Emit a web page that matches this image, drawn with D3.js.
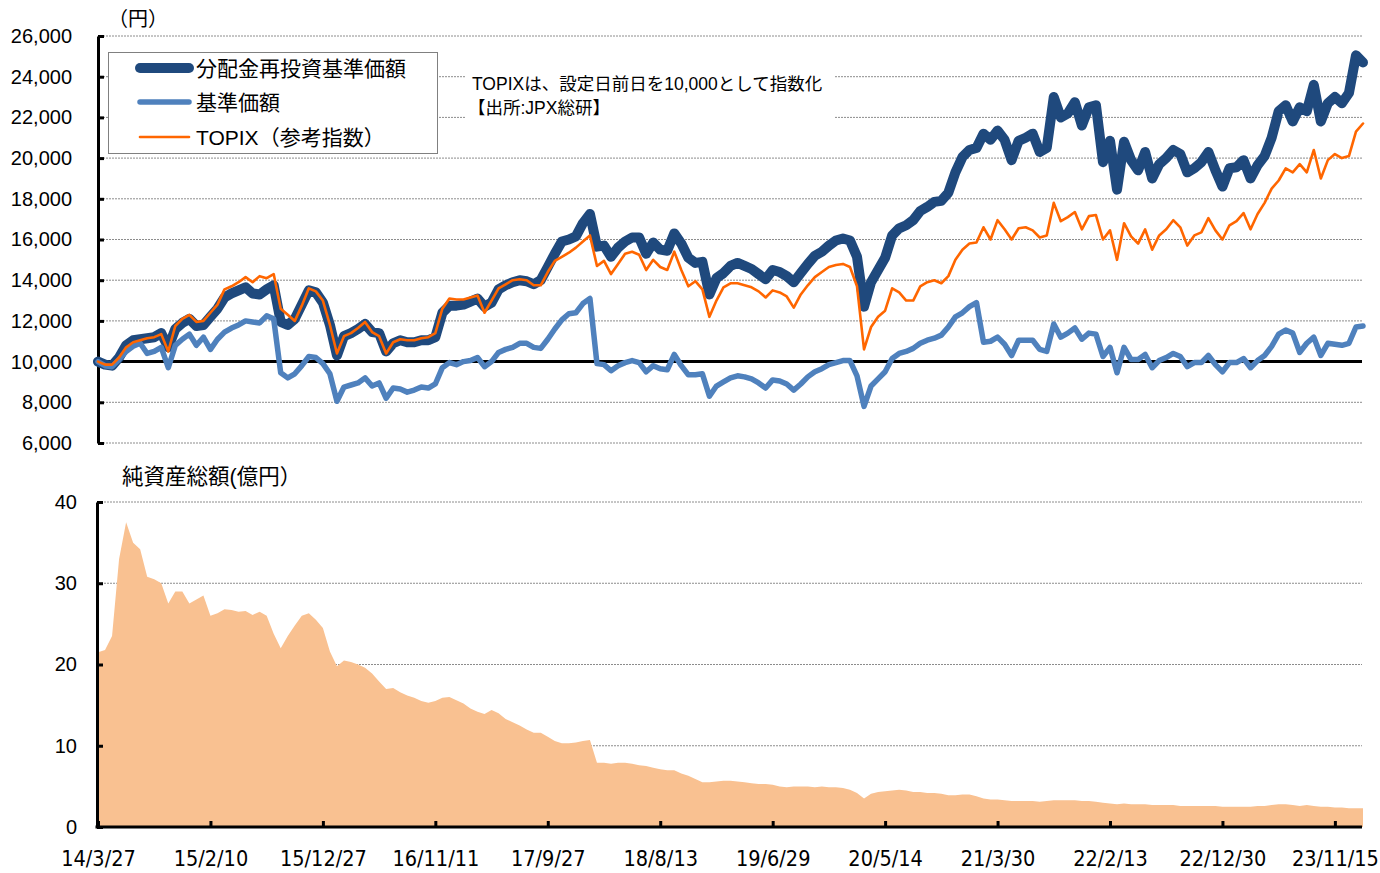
<!DOCTYPE html>
<html>
<head>
<meta charset="utf-8">
<script src="https://cdn.jsdelivr.net/npm/d3@7"></script>
<style>
  body { margin: 0; background: #fff; }
  svg { display: block; font-family: "Liberation Sans", "Noto Sans CJK JP", sans-serif; }
  .grid line { stroke: #8c8c8c; stroke-width: 1; stroke-dasharray: 2,1; }
  .axis path, .axis line { stroke: #000; stroke-width: 3; }
  .xaxis text { font-family: "DejaVu Sans Condensed", "Liberation Sans Narrow", sans-serif; font-stretch: condensed; }
</style>
</head>
<body>
<div id="chart"></div>
<script>
// data, one value every 20 days from the start date
const startDate = "2014-03-27";
const stepDays = 20;

const reinvestNav = [
  10000, 9850, 9800, 10200, 10800, 11050, 11100, 11150, 11200, 11400,
  10700, 11600, 11900, 12100, 11750, 11800, 12200, 12600, 13150, 13350,
  13500, 13650, 13350, 13300, 13550, 13750, 11950, 11800, 12100, 12800,
  13500, 13400, 12900, 11800, 10300, 11250, 11400, 11600, 11850, 11450,
  11400, 10500, 10900, 11050, 10950, 10950, 11050, 11050, 11200, 12400,
  12750, 12750, 12800, 12950, 13100, 12700, 12900, 13550, 13750, 13900,
  14000, 13950, 13800, 14000, 14650, 15300, 15900, 16000, 16150, 16800,
  17250, 15650, 15700, 15150, 15600, 15900, 16100, 16100, 15300, 15850,
  15500, 15450, 16300, 15800, 15100, 14850, 14900, 13300, 14100, 14350,
  14700, 14850, 14700, 14550, 14300, 14050, 14500, 14400, 14200, 13900,
  14350, 14800, 15200, 15400, 15700, 15950, 16050, 15950, 15150, 12700,
  13900, 14500, 15100, 16200, 16550, 16700, 16950, 17400, 17600, 17850,
  17900, 18300, 19300, 20050, 20400, 20500, 21200, 20900, 21350, 20900,
  19900, 20850, 21000, 21200, 20300, 20500, 23000, 22000, 22200, 22750,
  21600, 22500, 22600, 19800, 20850, 18450, 20800, 19900, 19400, 20300,
  19000, 19700, 20000, 20400, 20200, 19300, 19500, 19800, 20300, 19400,
  18600, 19500, 19550, 19900, 19000, 19650, 20100, 21000, 22300, 22600,
  21800, 22500, 22300, 23600, 21800, 22700, 23000, 22700, 23200, 25050, 24700
];

const nav = [
  10000, 9800, 9750, 10100, 10500, 10750, 10900, 10400, 10500, 10700,
  9700, 10800, 11100, 11350, 10800, 11200, 10600, 11100, 11450, 11650,
  11800, 12000, 11950, 11900, 12250, 12100, 9450, 9200, 9400, 9800,
  10250, 10200, 9900, 9400, 8050, 8750, 8850, 8950, 9200, 8800,
  8950, 8200, 8700, 8650, 8500, 8600, 8750, 8700, 8900, 9700,
  9950, 9850, 10000, 10050, 10200, 9750, 10000, 10450, 10600, 10700,
  10900, 10900, 10700, 10650, 11100, 11600, 12050, 12350, 12400, 12850,
  13100, 9900, 9850, 9550, 9800, 9950, 10050, 9950, 9500, 9800,
  9650, 9600, 10350, 9800, 9350, 9350, 9400, 8300, 8800, 9000,
  9200, 9300, 9250, 9150, 8950, 8700, 9100, 9050, 8900, 8600,
  8900, 9250, 9500, 9650, 9850, 9950, 10050, 10050, 9300, 7800,
  8800, 9150, 9500, 10150, 10400, 10500, 10650, 10900, 11050, 11150,
  11300, 11700, 12200, 12400, 12700, 12900, 10950, 11000, 11200, 10850,
  10300, 11050, 11050, 11050, 10600, 10500, 11850, 11200, 11400, 11650,
  11100, 11400, 11350, 10250, 10700, 9450, 10700, 10100, 10100, 10350,
  9700, 10050, 10200, 10400, 10250, 9750, 9950, 9950, 10300, 9850,
  9500, 9950, 9950, 10150, 9700, 10050, 10300, 10750, 11350, 11550,
  11400, 10450, 10900, 11200, 10300, 10900, 10850, 10800, 10900, 11700, 11750
];

const topix = [
  10000, 9850, 9850, 10200, 10700, 10950, 11050, 11150, 11200, 11350,
  10500, 11750, 12100, 12300, 11950, 12000, 12400, 12800, 13550, 13700,
  13900, 14150, 13900, 14200, 14100, 14300, 12600, 12300, 12000, 12750,
  13600, 13450, 13000, 11800, 10400, 11250, 11400, 11650, 11950, 11450,
  11250, 10400, 10950, 11100, 11050, 11050, 11150, 11200, 11400, 12600,
  13100, 13050, 13050, 13150, 13250, 12400, 13000, 13600, 13800, 14000,
  14050, 14000, 13750, 13750, 14400, 14950, 15150, 15350, 15600, 15900,
  16200, 14700, 14950, 14300, 14800, 15300, 15400, 15250, 14500, 15000,
  14650, 14500, 15400, 14500, 13700, 13950, 13550, 12200, 13000, 13650,
  13850, 13850, 13750, 13650, 13450, 13150, 13500, 13400, 13200, 12650,
  13300, 13750, 14150, 14400, 14650, 14750, 14800, 14650, 13700, 10600,
  11700, 12200, 12500, 13600, 13400, 13000, 13000, 13700, 13900, 14000,
  13850, 14200, 15000, 15500, 15800, 15850, 16600, 16000, 16950, 16500,
  16000, 16550, 16600, 16450, 16100, 16200, 17800, 16900, 17100, 17350,
  16500, 17150, 17200, 16000, 16450, 15000, 16800, 16150, 15800, 16500,
  15500, 16200, 16500, 16950, 16600, 15700, 16200, 16350, 17050, 16450,
  16000, 16700, 16900, 17300, 16500, 17250, 17800, 18500, 18900, 19500,
  19300, 19700, 19300, 20400, 19000, 19900, 20200, 20000, 20100, 21300, 21700
];

const netAssets = [
  21.5, 21.8, 23.5, 33.0, 37.5, 35.0, 34.2, 30.8, 30.5, 30.0,
  27.5, 29.0, 29.0, 27.5, 28.0, 28.5, 26.0, 26.3, 26.8, 26.7,
  26.5, 26.6, 26.1, 26.5, 26.0, 23.8, 22.0, 23.5, 24.8, 26.0,
  26.3, 25.5, 24.5, 21.6, 19.8, 20.5, 20.3, 20.0, 19.6, 18.9,
  17.9, 17.0, 17.1, 16.6, 16.2, 15.9, 15.5, 15.3, 15.5, 15.9,
  16.0, 15.6, 15.2, 14.6, 14.2, 13.9, 14.4, 14.0, 13.3, 12.9,
  12.5, 12.0, 11.6, 11.6, 11.1, 10.6, 10.3, 10.3, 10.4, 10.6,
  10.7, 7.9, 7.9, 7.8, 7.9, 7.9, 7.8, 7.6, 7.5, 7.3,
  7.1, 7.0, 7.0, 6.6, 6.3, 5.9, 5.5, 5.5, 5.6, 5.7,
  5.7, 5.6, 5.5, 5.4, 5.3, 5.3, 5.2, 5.0, 4.9, 5.0,
  5.0, 5.0, 4.9, 5.0, 4.9, 4.9, 4.8, 4.6, 4.2, 3.5,
  4.1, 4.3, 4.4, 4.5, 4.6, 4.5, 4.3, 4.3, 4.2, 4.2,
  4.1, 3.9, 3.9, 4.0, 4.0, 3.8, 3.5, 3.4, 3.4, 3.3,
  3.2, 3.2, 3.2, 3.2, 3.1, 3.2, 3.3, 3.3, 3.3, 3.3,
  3.2, 3.2, 3.1, 3.0, 2.9, 2.8, 2.9, 2.8, 2.8, 2.8,
  2.7, 2.7, 2.7, 2.7, 2.6, 2.6, 2.6, 2.6, 2.6, 2.6,
  2.5, 2.5, 2.5, 2.5, 2.5, 2.6, 2.6, 2.7, 2.8, 2.8,
  2.7, 2.6, 2.7, 2.6, 2.5, 2.5, 2.4, 2.4, 2.3, 2.3, 2.3
];

const tickLabels = ["14/3/27", "15/2/10", "15/12/27", "16/11/11", "17/9/27", "18/8/13",
  "19/6/29", "20/5/14", "21/3/30", "22/2/13", "22/12/30", "23/11/15"];
const priceTicks = [6000, 8000, 10000, 12000, 14000, 16000, 18000, 20000, 22000, 24000, 26000];
const assetTicks = [0, 10, 20, 30, 40];
const seriesNames = ["分配金再投資基準価額", "基準価額", "TOPIX（参考指数）"];
const seriesColors = ["#1f497d", "#4f81bd", "#ff6600"];
const seriesWidths = [10, 5.5, 2.6];

const width = 1380, height = 873;

var svg = d3.select("#chart").append("svg")
    .attr("width", width)
    .attr("height", height);

var parseDay = d3.timeParse("%Y-%m-%d"),
    parseTick = d3.timeParse("%y/%m/%d");
var start = parseDay(startDate);
var dates = reinvestNav.map(function(d, i) { return d3.timeDay.offset(start, i * stepDays); });
var tickDates = tickLabels.map(function(s) { return parseTick(s); });

var x = d3.scaleTime()
    .domain([start, d3.timeDay.offset(start, 3600)])
    .range([98, 1363]);

var yTop = d3.scaleLinear().domain([6000, 26000]).range([443, 36]);
var yBot = d3.scaleLinear().domain([0, 40]).range([827, 502]);

// ---------- top panel ----------
svg.append("g")
    .attr("class", "grid")
  .selectAll("line")
    .data(priceTicks.filter(function(d) { return d !== 10000; }))
  .enter().append("line")
    .attr("x1", 100).attr("x2", 1362)
    .attr("y1", function(d) { return yTop(d); })
    .attr("y2", function(d) { return yTop(d); });

svg.append("line")
    .attr("x1", 98).attr("x2", 1362)
    .attr("y1", yTop(10000)).attr("y2", yTop(10000))
    .attr("stroke", "#000").attr("stroke-width", 3);

// white box behind the note
svg.append("rect")
    .attr("x", 466).attr("y", 70).attr("width", 368).attr("height", 50)
    .attr("fill", "#fff");

svg.append("text")
    .attr("x", 472).attr("y", 90)
    .attr("font-size", 17.5)
    .text("TOPIXは、設定日前日を10,000として指数化");
svg.append("text")
    .attr("x", 468).attr("y", 114)
    .attr("font-size", 17.5)
    .text("【出所:JPX総研】");

var yAxisTop = d3.axisLeft(yTop)
    .tickValues(priceTicks)
    .tickSize(-6)
    .tickSizeOuter(0)
    .tickPadding(26)
    .tickFormat(d3.format(","));

svg.append("g")
    .attr("class", "axis")
    .attr("transform", "translate(98,0)")
    .call(yAxisTop)
    .call(function(g) { g.selectAll("text").attr("font-size", 20).attr("fill", "#000").attr("font-family", "Liberation Sans"); });

var lines = [reinvestNav, nav, topix];
lines.forEach(function(values, k) {
  var line = d3.line()
      .x(function(d, i) { return x(dates[i]); })
      .y(function(d) { return yTop(d); });
  svg.append("path")
      .datum(values)
      .attr("fill", "none")
      .attr("stroke", seriesColors[k])
      .attr("stroke-width", seriesWidths[k])
      .attr("stroke-linejoin", "round")
      .attr("stroke-linecap", "round")
      .attr("d", line);
});

svg.append("text")
    .attr("x", 108).attr("y", 26)
    .attr("font-size", 20)
    .text("（円）");

// legend
var legend = svg.append("g");
legend.append("rect")
    .attr("x", 108.5).attr("y", 52.5).attr("width", 329).attr("height", 101)
    .attr("fill", "#fff").attr("stroke", "#808080").attr("stroke-width", 1);

var legendY = [68, 102, 137];
seriesNames.forEach(function(name, k) {
  legend.append("line")
      .attr("x1", 140).attr("x2", 189)
      .attr("y1", legendY[k]).attr("y2", legendY[k])
      .attr("stroke", seriesColors[k])
      .attr("stroke-width", seriesWidths[k])
      .attr("stroke-linecap", "round");
  legend.append("text")
      .attr("x", 196).attr("y", legendY[k])
      .attr("dy", "0.36em")
      .attr("font-size", 21)
      .text(name);
});

// ---------- bottom panel ----------
svg.append("g")
    .attr("class", "grid")
  .selectAll("line")
    .data(assetTicks.filter(function(d) { return d > 0; }))
  .enter().append("line")
    .attr("x1", 98).attr("x2", 1362)
    .attr("y1", function(d) { return yBot(d); })
    .attr("y2", function(d) { return yBot(d); });

var area = d3.area()
    .x(function(d, i) { return x(dates[i]); })
    .y0(yBot(0))
    .y1(function(d) { return yBot(d); });

svg.append("path")
    .datum(netAssets)
    .attr("fill", "#f9c191")
    .attr("d", area);

svg.append("text")
    .attr("x", 122).attr("y", 484)
    .attr("font-size", 21.5)
    .text("純資産総額(億円）");

var yAxisBot = d3.axisLeft(yBot)
    .tickValues(assetTicks)
    .tickSize(-6)
    .tickSizeOuter(0)
    .tickPadding(20);

svg.append("g")
    .attr("class", "axis")
    .attr("transform", "translate(97,0)")
    .call(yAxisBot)
    .call(function(g) { g.selectAll("text").attr("font-size", 20).attr("fill", "#000").attr("font-family", "Liberation Sans"); });

var xAxis = d3.axisBottom(x)
    .tickValues(tickDates)
    .tickSize(-6)
    .tickSizeOuter(0)
    .tickPadding(24)
    .tickFormat(function(d, i) { return tickLabels[i]; });

svg.append("g")
    .attr("class", "axis xaxis")
    .attr("transform", "translate(0," + yBot(0) + ")")
    .call(xAxis)
    .call(function(g) {
      g.select(".domain").attr("d", "M95.5,0H1362");
      g.selectAll("text").attr("font-size", 21.5).attr("fill", "#000");
    });
</script>
</body>
</html>
